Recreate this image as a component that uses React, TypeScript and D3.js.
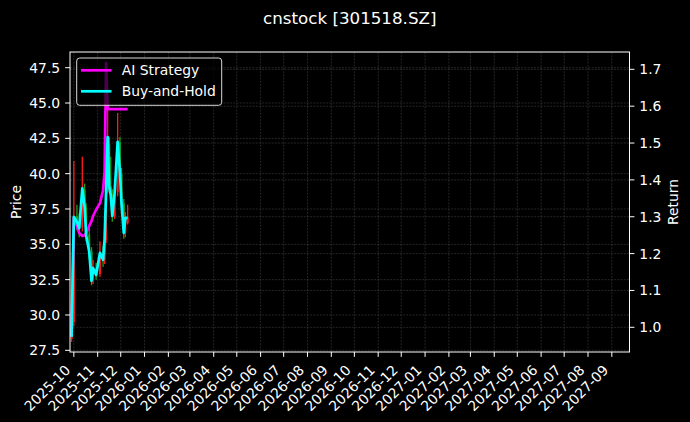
import React from 'react';
import * as d3 from 'd3';

// trading days shown on the chart
const dates = [
  '2025-09-28', '2025-10-01', '2025-10-05', '2025-10-08', '2025-10-12', '2025-10-15', '2025-10-17',
  '2025-10-21', '2025-10-24', '2025-10-26', '2025-10-30', '2025-11-04', '2025-11-08', '2025-11-10',
  '2025-11-12', '2025-11-14', '2025-11-16', '2025-11-18', '2025-11-20', '2025-11-23', '2025-11-27',
  '2025-11-30', '2025-12-02', '2025-12-05', '2025-12-07', '2025-12-10',
];

// OHLC prices (left axis)
const open = [28.3, 29.5, 37.0, 36.6, 36.2, 38.9, 37.6, 35.7, 34.5, 32.5, 33.3, 32.9, 34.4, 33.9, 35.3, 38.9, 42.1, 39.1, 38.5, 37.0, 38.7, 42.2, 40.0, 37.9, 35.8, 36.5];
const high = [28.9, 40.9, 37.8, 37.2, 41.2, 39.3, 37.9, 36.3, 34.8, 33.9, 33.7, 35.2, 34.9, 36.0, 39.6, 45.3, 42.6, 41.2, 38.9, 39.2, 44.3, 42.6, 40.4, 38.2, 37.3, 37.8];
const low = [28.1, 29.2, 36.0, 35.5, 35.9, 37.2, 35.2, 34.0, 32.1, 32.2, 32.5, 32.7, 33.4, 33.6, 35.1, 38.6, 38.7, 38.0, 36.6, 36.8, 38.4, 39.5, 37.5, 35.4, 35.5, 36.4];
const close = [28.46, 36.96, 36.6, 36.13, 38.96, 37.66, 35.66, 34.48, 32.4, 33.32, 32.83, 34.39, 33.89, 35.31, 38.84, 42.17, 39.13, 38.49, 37.01, 38.63, 42.17, 39.98, 37.87, 35.8, 36.86, 36.9];

// cumulative returns (right axis)
const aiStrategy = [0.975, 1.297, 1.275, 1.256, 1.248, 1.25, 1.256, 1.275, 1.288, 1.302, 1.319, 1.337, 1.372, 1.421, 1.717, 1.592, 1.592, 1.592, 1.592, 1.592, 1.592, 1.592, 1.592, 1.592, 1.592, 1.592];
const buyAndHold = [0.974, 1.3, 1.286, 1.269, 1.377, 1.327, 1.25, 1.205, 1.126, 1.161, 1.142, 1.202, 1.183, 1.237, 1.372, 1.516, 1.383, 1.359, 1.302, 1.364, 1.503, 1.419, 1.337, 1.256, 1.297, 1.297];

const priceTicks = [27.5, 30.0, 32.5, 35.0, 37.5, 40.0, 42.5, 45.0, 47.5];
const returnTicks = [1.0, 1.1, 1.2, 1.3, 1.4, 1.5, 1.6, 1.7];

const W = 690;
const H = 422;
const FONT = 'DejaVu Sans, sans-serif';

const App: React.FC = () => {
  const left = 70, right = 629.5, top = 52, bottom = 352;
  const parse = d3.timeParse('%Y-%m-%d');
  const days = dates.map(d => parse(d) as Date);

  const x = d3.scaleTime()
    .domain([new Date(2025, 8, 26), new Date(2027, 8, 24)])
    .range([left, right]);
  const yPrice = d3.scaleLinear().domain([27.38, 48.61]).range([bottom, top]);
  const yRet = d3.scaleLinear().domain([0.933, 1.747]).range([bottom, top]);

  const months = d3.timeMonth.range(new Date(2025, 9, 1), new Date(2027, 8, 2));
  const fmtMonth = d3.timeFormat('%Y-%m');

  const line = (vals: number[]) =>
    d3.line<number>()
      .x((_, i) => x(days[i]))
      .y(v => yRet(v))(vals) || '';

  const gridStyle = { stroke: '#8a8a8a', strokeOpacity: 0.45, strokeWidth: 0.6, strokeDasharray: '2,1.2' };
  const tickLen = 4.9;

  return (
    <svg width={W} height={H} style={{ position: 'absolute', left: 0, top: 0, background: '#000' }} fontFamily={FONT}>
      <rect x={0} y={0} width={W} height={H} fill="#000" />

      {/* grid */}
      {months.map(m => (
        <line key={'gx' + m.getTime()} x1={x(m)} x2={x(m)} y1={top} y2={bottom} {...gridStyle} />
      ))}
      {priceTicks.map(t => (
        <line key={'gp' + t} x1={left} x2={right} y1={yPrice(t)} y2={yPrice(t)} {...gridStyle} />
      ))}
      {returnTicks.map(t => (
        <line key={'gr' + t} x1={left} x2={right} y1={yRet(t)} y2={yRet(t)} {...gridStyle} />
      ))}

      {/* candles */}
      {days.map((d, i) => {
        const up = close[i] >= open[i];
        const col = up ? '#ff1a1a' : '#1f9e1f';
        const cx = x(d);
        const yTop = yPrice(Math.max(open[i], close[i]));
        const yBot = yPrice(Math.min(open[i], close[i]));
        return (
          <g key={'c' + i}>
            <line x1={cx} x2={cx} y1={yPrice(high[i])} y2={yPrice(low[i])} stroke={col} strokeWidth={1.3} />
            <rect x={cx - 1} y={yTop} width={2} height={Math.max(0.8, yBot - yTop)} fill={col} />
          </g>
        );
      })}

      {/* return lines */}
      <path d={line(aiStrategy)} fill="none" stroke="#ff00ff" strokeWidth={2.7} strokeLinejoin="round" />
      <path d={line(buyAndHold)} fill="none" stroke="#00ffff" strokeWidth={2.7} strokeLinejoin="round" />

      {/* frame */}
      <rect x={left} y={top} width={right - left} height={bottom - top} fill="none" stroke="#fff" strokeWidth={1} />

      {/* left axis */}
      {priceTicks.map(t => (
        <g key={'lp' + t}>
          <line x1={left - tickLen} x2={left} y1={yPrice(t)} y2={yPrice(t)} stroke="#fff" />
          <text x={left - tickLen - 4.9} y={yPrice(t)} dy="0.36em" textAnchor="end" fill="#fff" fontSize={13.9}>
            {t.toFixed(1)}
          </text>
        </g>
      ))}
      {/* right axis */}
      {returnTicks.map(t => (
        <g key={'lr' + t}>
          <line x1={right} x2={right + tickLen} y1={yRet(t)} y2={yRet(t)} stroke="#fff" />
          <text x={right + tickLen + 4.9} y={yRet(t)} dy="0.36em" textAnchor="start" fill="#fff" fontSize={13.9}>
            {t.toFixed(1)}
          </text>
        </g>
      ))}
      {/* bottom axis */}
      {months.map(m => (
        <g key={'bx' + m.getTime()}>
          <line x1={x(m)} x2={x(m)} y1={bottom} y2={bottom + tickLen} stroke="#fff" />
          <text transform={`translate(${x(m) - 2.5},${371}) rotate(-45)`} textAnchor="end" fill="#fff" fontSize={13.9}>
            {fmtMonth(m)}
          </text>
        </g>
      ))}

      {/* labels */}
      <text x={(left + right) / 2} y={24} textAnchor="middle" fill="#fff" fontSize={16.7}>cnstock [301518.SZ]</text>
      <text transform={`translate(21,${(top + bottom) / 2}) rotate(-90)`} textAnchor="middle" fill="#fff" fontSize={13.9}>Price</text>
      <text transform={`translate(678,${(top + bottom) / 2}) rotate(-90)`} textAnchor="middle" fill="#fff" fontSize={13.9}>Return</text>

      {/* legend */}
      <g>
        <rect x={76.7} y={58} width={145} height={47.3} rx={3} fill="#000" fillOpacity={0.7} stroke="#d8d8d8" strokeWidth={1} />
        <line x1={81} x2={111.5} y1={70.3} y2={70.3} stroke="#ff00ff" strokeWidth={2.7} />
        <text x={121.7} y={70.3} dy="0.36em" fill="#fff" fontSize={13.9}>AI Strategy</text>
        <line x1={81} x2={111.5} y1={91.3} y2={91.3} stroke="#00ffff" strokeWidth={2.7} />
        <text x={121.7} y={91.3} dy="0.36em" fill="#fff" fontSize={13.9}>Buy-and-Hold</text>
      </g>
    </svg>
  );
};

export default App;
